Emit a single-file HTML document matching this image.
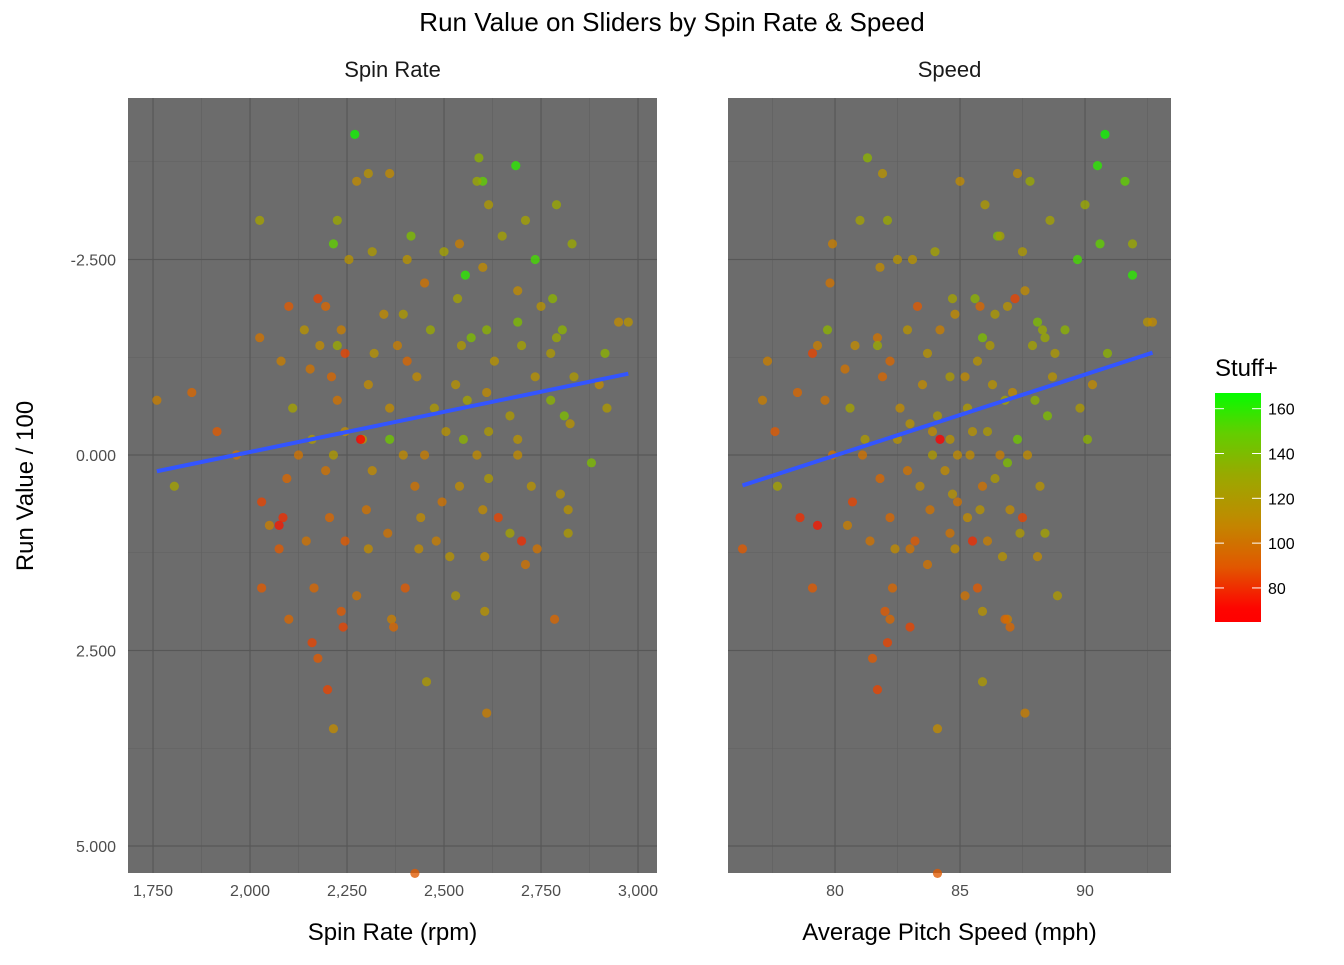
<!DOCTYPE html>
<html><head><meta charset="utf-8"><style>
body{margin:0;background:#fff;font-family:"Liberation Sans",Arial,sans-serif}
</style></head><body>
<svg id="c" width="1344" height="960" xmlns="http://www.w3.org/2000/svg" font-family="Liberation Sans, Arial, sans-serif"></svg>
<script>
const spin=[2270,2685,2590,2600,2585,2275,2305,2360,2615,2790,2025,2225,2710,2215,2415,2735,2555,2830,2500,2255,2315,2405,2600,2650,2540,2450,2535,2690,2780,2175,2100,2195,2750,2975,2950,2140,2235,2465,2570,2610,2690,2805,2025,2345,2395,2180,2225,2380,2545,2700,2790,2915,2080,2245,2320,2405,2630,2775,1850,1760,2155,2210,2305,2430,2530,2610,2735,2900,2835,2110,2225,2360,2475,2560,2670,2775,2810,2920,2825,1915,2160,2245,2290,2360,2505,2550,2615,2690,1965,2125,2215,2285,2395,2450,2585,2690,2880,1805,2095,2195,2315,2425,2540,2615,2725,2800,2030,2085,2205,2300,2440,2495,2600,2820,2640,2050,2075,2145,2245,2355,2480,2670,2700,2820,2075,2305,2435,2515,2605,2740,2030,2165,2400,2530,2275,2710,2100,2235,2365,2605,2785,2160,2240,2370,2175,2200,2455,2610,2215,2425];
const speed=[90.8,90.5,81.3,91.6,87.8,85.0,81.9,87.3,86.0,90.0,81.0,82.1,88.6,90.6,86.5,89.7,91.9,91.9,84.0,83.1,87.5,82.5,81.8,86.6,79.9,79.8,84.7,87.6,85.6,87.2,83.3,85.8,86.9,92.5,92.7,82.9,84.2,88.3,85.9,89.2,88.1,79.7,81.7,84.8,86.4,80.8,81.7,79.3,86.2,87.9,88.4,90.9,77.3,79.1,83.7,82.2,85.7,88.8,78.5,77.1,80.4,81.9,83.5,85.2,86.3,87.1,88.7,90.3,84.6,80.6,79.6,82.6,85.3,86.8,84.1,88.0,88.5,89.8,83.0,77.6,81.2,83.9,84.6,87.3,85.5,90.1,86.1,82.5,79.9,81.1,83.9,84.2,85.4,86.6,87.7,84.9,86.9,77.7,81.8,82.9,84.4,85.9,83.4,86.4,88.2,84.7,80.7,78.6,82.2,83.8,85.3,84.9,87.0,85.8,87.5,80.5,79.3,81.4,83.2,84.6,86.1,88.4,85.5,87.4,76.3,82.4,84.8,86.7,88.1,83.0,79.1,82.3,85.7,88.9,85.2,83.7,82.2,82.0,86.9,85.9,86.8,82.1,83.0,87.0,81.5,81.7,85.9,87.6,84.1,84.1];
const runValue=[-4.1,-3.7,-3.8,-3.5,-3.5,-3.5,-3.6,-3.6,-3.2,-3.2,-3.0,-3.0,-3.0,-2.7,-2.8,-2.5,-2.3,-2.7,-2.6,-2.5,-2.6,-2.5,-2.4,-2.8,-2.7,-2.2,-2.0,-2.1,-2.0,-2.0,-1.9,-1.9,-1.9,-1.7,-1.7,-1.6,-1.6,-1.6,-1.5,-1.6,-1.7,-1.6,-1.5,-1.8,-1.8,-1.4,-1.4,-1.4,-1.4,-1.4,-1.5,-1.3,-1.2,-1.3,-1.3,-1.2,-1.2,-1.3,-0.8,-0.7,-1.1,-1.0,-0.9,-1.0,-0.9,-0.8,-1.0,-0.9,-1.0,-0.6,-0.7,-0.6,-0.6,-0.7,-0.5,-0.7,-0.5,-0.6,-0.4,-0.3,-0.2,-0.3,-0.2,-0.2,-0.3,-0.2,-0.3,-0.2,0.0,0.0,0.0,-0.2,0.0,0.0,0.0,0.0,0.1,0.4,0.3,0.2,0.2,0.4,0.4,0.3,0.4,0.5,0.6,0.8,0.8,0.7,0.8,0.6,0.7,0.7,0.8,0.9,0.9,1.1,1.1,1.0,1.1,1.0,1.1,1.0,1.2,1.2,1.2,1.3,1.3,1.2,1.7,1.7,1.7,1.8,1.8,1.4,2.1,2.0,2.1,2.0,2.1,2.4,2.2,2.2,2.6,3.0,2.9,3.3,3.5,5.35];
const stuff=[165,160,135,150,130,110,115,110,120,130,125,130,125,150,140,155,160,130,125,115,120,115,110,125,105,100,125,110,135,85,90,95,115,115,110,115,105,130,140,135,140,135,100,110,120,110,130,105,120,125,130,135,105,85,115,95,115,120,95,105,100,95,110,110,115,110,115,110,120,125,100,110,120,125,120,135,140,120,115,90,120,110,115,145,115,135,120,115,100,100,120,70,110,105,110,110,140,125,95,100,110,100,110,120,115,115,85,80,95,100,110,100,110,115,85,105,75,100,90,100,105,125,80,120,90,110,110,115,110,100,90,95,90,120,100,100,95,90,105,115,95,85,85,95,90,85,120,105,110,90];
const yTicks=[-2.5,0,2.5,5];
const yTickLabels=["-2.500","0.000","2.500","5.000"];
const spinTicks=[1750,2000,2250,2500,2750,3000];
const spinTickLabels=["1,750","2,000","2,250","2,500","2,750","3,000"];
const speedTicks=[80,85,90];
const legendTicks=[80,100,120,140,160];

const svg=document.getElementById('c');const NS='http://www.w3.org/2000/svg';
function mk(t,a,p){const e=document.createElementNS(NS,t);for(const k in a)e.setAttribute(k,a[k]);(p||svg).appendChild(e);return e;}
const yS=v=>455+v*78.2;
const pTop=98,pBot=873;
const spinS=v=>153+(v-1750)*97/250;
const speedS=v=>835+(v-80)*25;
const stops=[[70,[255,0,0]],[90,[224,90,0]],[110,[192,138,0]],[130,[154,168,0]],[150,[96,208,0]],[168,[0,255,0]]];
function col(v){for(let i=0;i<stops.length-1;i++){const[a,ca]=stops[i],[b,cb]=stops[i+1];if(v<=b||i==stops.length-2){let t=Math.max(0,Math.min(1,(v-a)/(b-a)));return 'rgb('+ca.map((c,j)=>Math.round(c+(cb[j]-c)*t)).join(',')+')';}}}
function fit(xs,ys){const n=xs.length;let mx=0,my=0;for(let i=0;i<n;i++){mx+=xs[i];my+=ys[i];}mx/=n;my/=n;let sxy=0,sxx=0;for(let i=0;i<n;i++){sxy+=(xs[i]-mx)*(ys[i]-my);sxx+=(xs[i]-mx)**2;}const b=sxy/sxx;return x=>my+b*(x-mx);}
function panel(name,x0,x1,xs,xvals,ticks,labels,minor,title,strip){
  const g=mk('g',{});
  mk('rect',{x:x0,y:pTop,width:x1-x0,height:pBot-pTop,fill:'#6c6c6c'},g);
  [-3.75,-1.25,1.25,3.75].forEach(v=>mk('line',{x1:x0,x2:x1,y1:yS(v),y2:yS(v),stroke:'#616161','stroke-width':0.6},g));
  minor.forEach(v=>mk('line',{x1:xs(v),x2:xs(v),y1:pTop,y2:pBot,stroke:'#616161','stroke-width':0.6},g));
  yTicks.forEach(v=>mk('line',{x1:x0,x2:x1,y1:yS(v),y2:yS(v),stroke:'#575757','stroke-width':1.2},g));
  ticks.forEach((v,i)=>{mk('line',{x1:xs(v),x2:xs(v),y1:pTop,y2:pBot,stroke:'#575757','stroke-width':1.2},g);
    const t=mk('text',{x:xs(v),y:896,'text-anchor':'middle','font-size':16,fill:'#4d4d4d'},g);t.textContent=labels[i];
    });
  for(let i=0;i<xvals.length;i++){const c=mk('circle',{cx:xs(xvals[i]),cy:yS(runValue[i]),r:4.6,fill:col(stuff[i]),'fill-opacity':0.78},g);
    }
  const f=fit(xvals,runValue);const mn=Math.min(...xvals),mx=Math.max(...xvals);
  const l=mk('line',{x1:xs(mn),y1:yS(f(mn)),x2:xs(mx),y2:yS(f(mx)),stroke:'#3355ff','stroke-width':4},g);
  
  const st=mk('text',{x:(x0+x1)/2,y:77,'text-anchor':'middle','font-size':22,fill:'#1a1a1a'});st.textContent=strip;
  
  const at=mk('text',{x:(x0+x1)/2,y:940,'text-anchor':'middle','font-size':24,fill:'#000'});at.textContent=title;
  
}
panel('spin',128,657,spinS,spin,spinTicks,spinTickLabels,[1875,2125,2375,2625,2875],'Spin Rate (rpm)','Spin Rate');
panel('speed',728,1171,speedS,speed,speedTicks,speedTicks.map(String),[77.5,82.5,87.5,92.5],'Average Pitch Speed (mph)','Speed');
yTicks.forEach((v,i)=>{const t=mk('text',{x:116,y:yS(v)+6,'text-anchor':'end','font-size':16,fill:'#4d4d4d'});t.textContent=yTickLabels[i];
  });
const yt=mk('text',{x:0,y:0,transform:'translate(33,486) rotate(-90)','text-anchor':'middle','font-size':24,fill:'#000'});yt.textContent='Run Value / 100';

const tt=mk('text',{x:672,y:31,'text-anchor':'middle','font-size':26,fill:'#000'});tt.textContent='Run Value on Sliders by Spin Rate & Speed';

const lg=mk('g',{});
const lt=mk('text',{x:1215,y:376,'font-size':24,fill:'#000'},lg);lt.textContent='Stuff+';
const defs=mk('defs',{});const gr=mk('linearGradient',{id:'gr',x1:0,y1:1,x2:0,y2:0},defs);
const lv=v=>622-(v-64.8)*229/102.2;
for(let v=65;v<=167;v+=6){mk('stop',{offset:(v-64.8)/102.2,'stop-color':col(v)},gr);}
mk('rect',{x:1215,y:393,width:46,height:229,fill:'url(#gr)'},lg);
legendTicks.forEach(v=>{mk('line',{x1:1215,x2:1224,y1:lv(v),y2:lv(v),stroke:'#fff','stroke-width':1},lg);mk('line',{x1:1252,x2:1261,y1:lv(v),y2:lv(v),stroke:'#fff','stroke-width':1},lg);
  const t=mk('text',{x:1268,y:lv(v)+6,'font-size':16,fill:'#000'},lg);t.textContent=v;});
</script>
</body></html>
